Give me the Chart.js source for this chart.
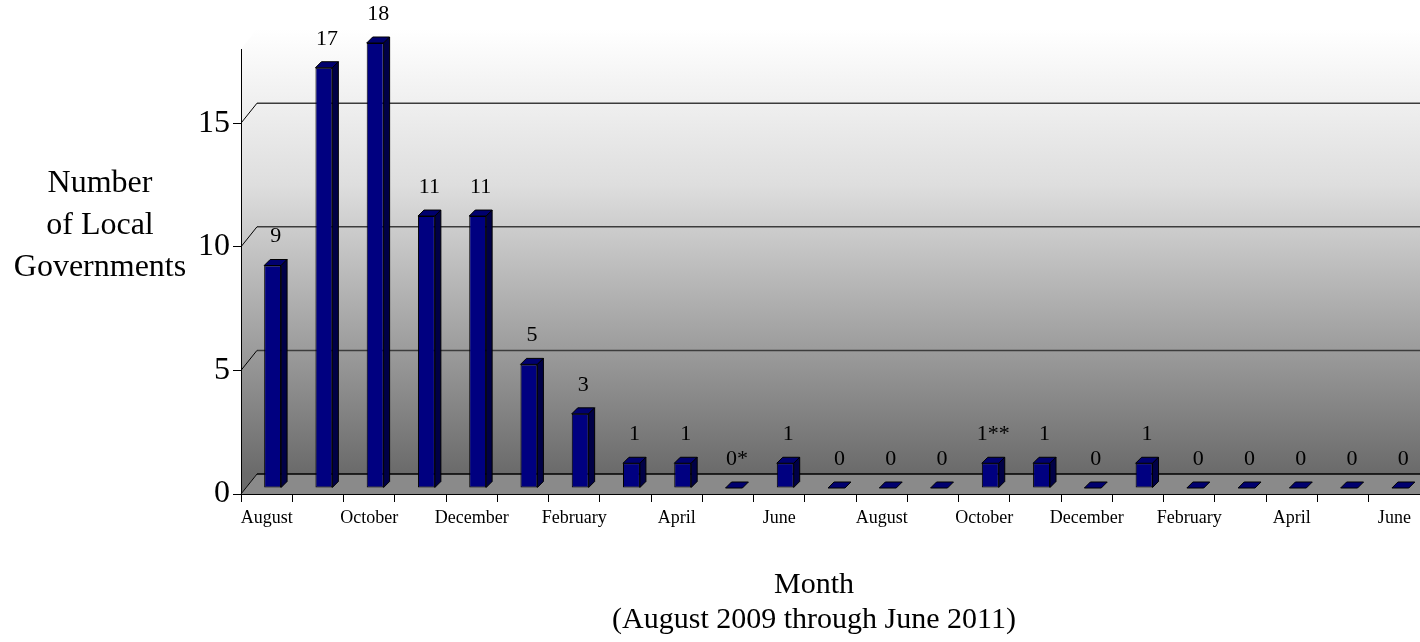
<!DOCTYPE html>
<html>
<head>
<meta charset="utf-8">
<script src="https://cdn.jsdelivr.net/npm/chart.js@4/dist/chart.umd.min.js"></script>
<style>
  html, body { margin: 0; padding: 0; background: #fff; }
  #wrap { width: 1420px; height: 642px; position: relative; }
</style>
</head>
<body>
<div id="wrap"><canvas id="chart"></canvas></div>
<script>
// data (August 2009 -> June 2011)
const months = ['August', 'September', 'October', 'November', 'December', 'January',
    'February', 'March', 'April', 'May', 'June', 'July', 'August', 'September',
    'October', 'November', 'December', 'January', 'February', 'March', 'April', 'May', 'June'];
const counts = [9, 17, 18, 11, 11, 5, 3, 1, 1, 0, 1, 0, 0, 0, 1, 1, 0, 1, 0, 0, 0, 0, 0];
const footnoteMarks = ['', '', '', '', '', '', '', '', '', '*', '', '', '', '', '**', '', '', '', '', '', '', '', ''];
const yTicks = [0, 5, 10, 15];
const yTitle = ['Number', 'of Local', 'Governments'];
const xTitle = ['Month', '(August 2009 through June 2011)'];

const FONT = '"Liberation Serif", "Times New Roman", serif';
// 3D offsets: back wall and bar depth
const WALL_DX = 16, WALL_DY = 20;
const BAR_DX = 6, BAR_DY = 6;

const effet3d = {
    id: 'effet3d',
    beforeDraw(chart) {
        const { ctx, chartArea: a, scales: { y } } = chart;
        const top = a.top - WALL_DY;
        const bottom = y.getPixelForValue(0) - WALL_DY;
        const g = ctx.createLinearGradient(0, top, 0, bottom);
        g.addColorStop(0, '#ffffff');
        g.addColorStop(0.35, '#dedede');
        g.addColorStop(1, '#6a6a6a');

        ctx.save();
        // back wall
        ctx.fillStyle = g;
        ctx.fillRect(a.left + WALL_DX, top, a.right - a.left - WALL_DX, bottom - top);
        // side wall
        ctx.beginPath();
        ctx.moveTo(a.left, a.top);
        ctx.lineTo(a.left + WALL_DX, top);
        ctx.lineTo(a.left + WALL_DX, bottom);
        ctx.lineTo(a.left, a.bottom);
        ctx.closePath();
        ctx.fill();
        // floor
        ctx.fillStyle = '#8a8a8a';
        ctx.beginPath();
        ctx.moveTo(a.left, a.bottom);
        ctx.lineTo(a.right, a.bottom);
        ctx.lineTo(a.right + WALL_DX, bottom);
        ctx.lineTo(a.left + WALL_DX, bottom);
        ctx.closePath();
        ctx.fill();

        // grid lines on the back wall + diagonals on the side wall
        yTicks.forEach(v => {
            const py = y.getPixelForValue(v);
            ctx.strokeStyle = v === 0 ? '#000' : '#3c3c3c';
            ctx.lineWidth = 1.5;
            ctx.beginPath();
            ctx.moveTo(a.left + WALL_DX, py - WALL_DY);
            ctx.lineTo(a.right, py - WALL_DY);
            ctx.stroke();
            ctx.strokeStyle = '#000';
            ctx.lineWidth = 1;
            ctx.beginPath();
            ctx.moveTo(a.left, py);
            ctx.lineTo(a.left + WALL_DX, py - WALL_DY);
            ctx.stroke();
        });
        ctx.restore();
    },
    beforeDatasetsDraw(chart) {
        chart.ctx.save();
        chart.ctx.translate(BAR_DX, -BAR_DY);
    },
    afterDatasetsDraw(chart) {
        const ctx = chart.ctx;
        const meta = chart.getDatasetMeta(0);

        // top and side faces of each bar
        ctx.lineWidth = 1;
        ctx.strokeStyle = '#000';
        meta.data.forEach(bar => {
            const { x, y, base, width } = bar.getProps(['x', 'y', 'base', 'width'], true);
            const l = x - width / 2, r = x + width / 2;
            ctx.fillStyle = '#00006e';
            ctx.beginPath();
            ctx.moveTo(l, y);
            ctx.lineTo(r, y);
            ctx.lineTo(r + BAR_DX, y - BAR_DY);
            ctx.lineTo(l + BAR_DX, y - BAR_DY);
            ctx.closePath();
            ctx.fill();
            ctx.stroke();
            if (base - y > 0.5) {
                ctx.fillStyle = '#000046';
                ctx.beginPath();
                ctx.moveTo(r, y);
                ctx.lineTo(r + BAR_DX, y - BAR_DY);
                ctx.lineTo(r + BAR_DX, base - BAR_DY);
                ctx.lineTo(r, base);
                ctx.closePath();
                ctx.fill();
                ctx.stroke();
            }
        });
        ctx.restore();

        // value labels
        ctx.save();
        ctx.font = '22px ' + FONT;
        ctx.fillStyle = '#000';
        ctx.textAlign = 'center';
        ctx.textBaseline = 'middle';
        meta.data.forEach((bar, i) => {
            ctx.fillText(counts[i] + footnoteMarks[i], bar.x + BAR_DX + 3, bar.y - 35);
        });
        ctx.restore();
    },
    afterDraw(chart) {
        const ctx = chart.ctx;
        ctx.save();
        ctx.fillStyle = '#000';
        ctx.textAlign = 'center';
        ctx.textBaseline = 'middle';
        ctx.font = '32px ' + FONT;
        yTitle.forEach((t, i) => ctx.fillText(t, 100, 184 + i * 42));
        ctx.font = '30px ' + FONT;
        ctx.fillText(xTitle[0], 814, 585);
        ctx.fillText(xTitle[1], 814, 620);
        ctx.restore();
    }
};

const ctx = document.getElementById('chart').getContext('2d');
new Chart(ctx, {
    type: 'bar',
    data: {
        labels: months,
        datasets: [{
            data: counts,
            backgroundColor: '#000080',
            borderColor: '#000',
            borderWidth: 1,
            borderSkipped: false,
            categoryPercentage: 1,
            barPercentage: 0.33,
            clip: false
        }]
    },
    options: {
        responsive: true,
        maintainAspectRatio: false,
        animation: false,
        layout: { padding: { top: 49, right: 0, left: 0, bottom: 0 } },
        plugins: {
            legend: { display: false },
            tooltip: { enabled: false }
        },
        scales: {
            x: {
                offset: true,
                afterFit: s => { s.height = 148; },
                grid: { offset: true, drawOnChartArea: false, tickLength: 8, color: '#000' },
                border: { color: '#000', width: 1 },
                ticks: {
                    autoSkip: false,
                    maxRotation: 0,
                    padding: 5,
                    color: '#000',
                    font: { family: FONT, size: 18 },
                    callback: (v, i) => (i % 2 === 0 ? months[i] : '')
                }
            },
            y: {
                min: 0,
                max: 18,
                afterFit: s => { s.width = 241; },
                grid: { drawOnChartArea: false, tickLength: 8, color: '#000' },
                border: { color: '#000', width: 1 },
                ticks: {
                    stepSize: 5,
                    includeBounds: false,
                    padding: 3,
                    color: '#000',
                    font: { family: FONT, size: 32 }
                }
            }
        }
    },
    plugins: [effet3d]
});
</script>
</body>
</html>
